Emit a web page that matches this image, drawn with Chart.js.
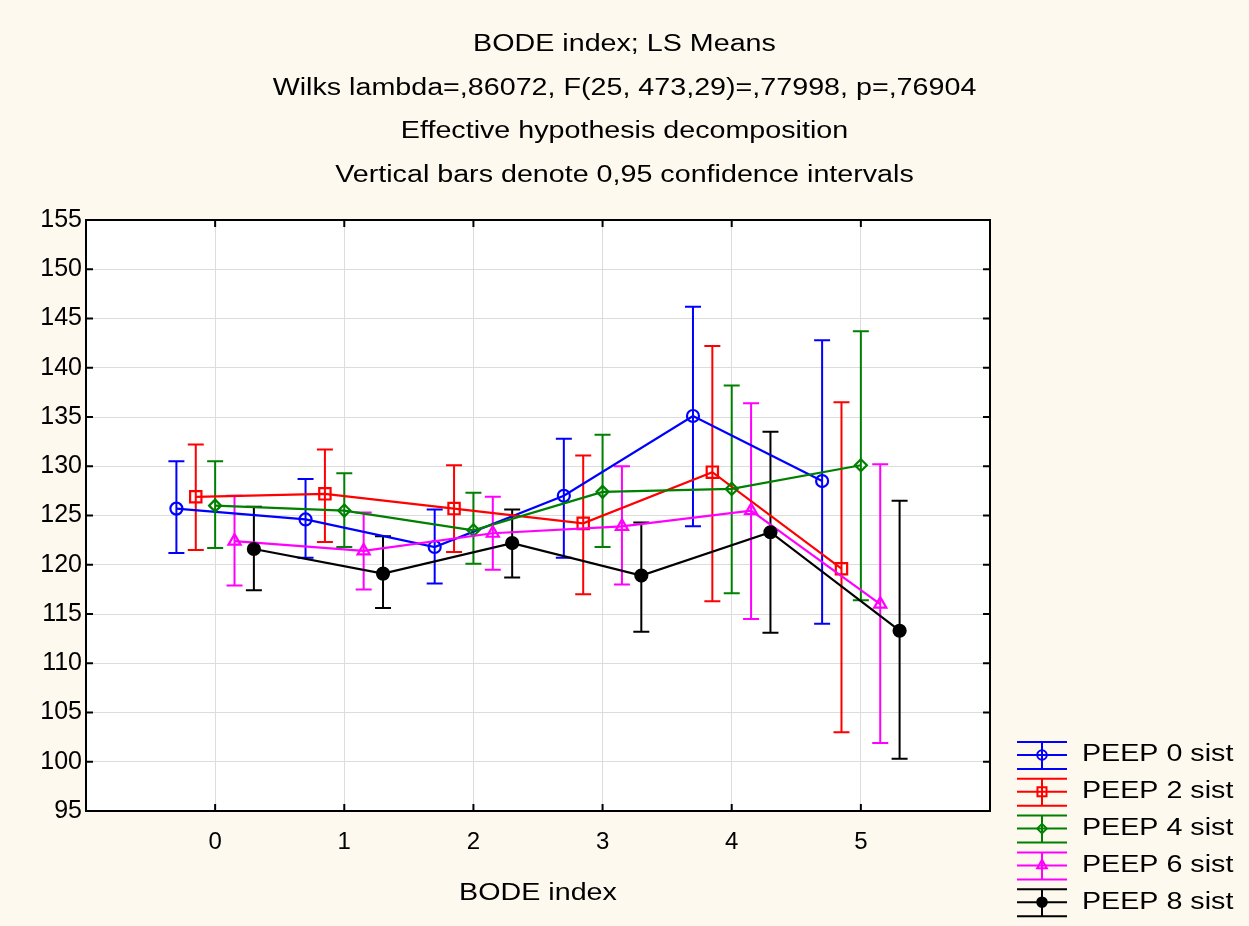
<!DOCTYPE html>
<html>
<head>
<meta charset="utf-8">
<script src="https://cdn.jsdelivr.net/npm/chart.js@4.4.1/dist/chart.umd.min.js"></script>
<style>
  html, body { margin: 0; padding: 0; background: #fdf9ee; }
  canvas { display: block; }
</style>
</head>
<body>
<canvas id="myChart" width="1249" height="926"></canvas>
<script>
// DATA
const categories = [0, 1, 2, 3, 4, 5];
const yTicks = [95, 100, 105, 110, 115, 120, 125, 130, 135, 140, 145, 150, 155];
const titleLines = [
  'BODE index; LS Means',
  'Wilks lambda=,86072, F(25, 473,29)=,77998, p=,76904',
  'Effective hypothesis decomposition',
  'Vertical bars denote 0,95 confidence intervals'
];
const xTitle = 'BODE index';
const seriesNames = ['PEEP 0 sist', 'PEEP 2 sist', 'PEEP 4 sist', 'PEEP 6 sist', 'PEEP 8 sist'];
const seriesOffsets = [-0.3, -0.15, 0, 0.15, 0.3];

const peep0 = [125.7, 124.6, 121.8, 127.0, 135.1, 128.5];
const peep0Low = [121.2, 120.7, 118.1, 120.7, 123.9, 114.0];
const peep0High = [130.5, 128.7, 125.6, 132.8, 146.2, 142.8];

const peep2 = [126.9, 127.2, 125.7, 124.2, 129.4, 119.6];
const peep2Low = [121.5, 122.3, 121.3, 117.0, 116.3, 103.0];
const peep2High = [132.2, 131.7, 130.1, 131.1, 142.2, 136.5];

const peep4 = [126.0, 125.5, 123.5, 127.4, 127.7, 130.1];
const peep4Low = [121.7, 121.8, 120.1, 121.8, 117.1, 116.4];
const peep4High = [130.5, 129.3, 127.3, 133.2, 138.2, 143.7];

const peep6 = [122.4, 121.4, 123.2, 123.9, 125.5, 116.0];
const peep6Low = [117.9, 117.5, 119.5, 118.0, 114.5, 101.9];
const peep6High = [127.0, 125.3, 126.9, 130.0, 136.4, 130.2];

const peep8 = [121.6, 119.1, 122.2, 118.9, 123.3, 113.3];
const peep8Low = [117.4, 115.6, 118.7, 113.2, 113.1, 100.3];
const peep8High = [125.9, 122.9, 125.6, 124.3, 133.5, 126.5];

// STYLE
const colors = ['#0000ff', '#ff0000', '#008000', '#ff00ff', '#000000'];
const markers = ['circle', 'rect', 'rectRot', 'triangle', 'circle'];
const markerSizes = [6, 8, 6, 7, 6];
const markerFill = ['transparent', 'transparent', 'transparent', 'transparent', '#000000'];
const FONT = '"Liberation Sans", Arial, sans-serif';
const STRETCH = 1.22;

const means = [peep0, peep2, peep4, peep6, peep8];
const lows = [peep0Low, peep2Low, peep4Low, peep6Low, peep8Low];
const highs = [peep0High, peep2High, peep4High, peep6High, peep8High];

function stretchText(ctx, text, x, y, size, align) {
  ctx.save();
  ctx.font = size + 'px ' + FONT;
  ctx.fillStyle = '#000';
  ctx.textBaseline = 'middle';
  ctx.textAlign = 'left';
  const w = ctx.measureText(text).width * STRETCH;
  const left = align === 'center' ? x - w / 2 : x;
  ctx.translate(left, y);
  ctx.scale(STRETCH, 1);
  ctx.fillText(text, 0, 0);
  ctx.restore();
}

// BACKGROUND, ERROR BARS, FRAME, TITLES, LEGEND
const decorPlugin = {
  id: 'decor',
  beforeDraw(chart) {
    const { ctx, chartArea: a } = chart;
    ctx.save();
    ctx.fillStyle = '#fdf9ee';
    ctx.fillRect(0, 0, chart.width, chart.height);
    ctx.fillStyle = '#ffffff';
    ctx.fillRect(a.left, a.top, a.right - a.left, a.bottom - a.top);
    ctx.restore();
  },
  beforeDatasetsDraw(chart) {
    const { ctx, scales: { x, y } } = chart;
    ctx.save();
    ctx.lineWidth = 2;
    means.forEach((m, s) => {
      ctx.strokeStyle = colors[s];
      categories.forEach((c, i) => {
        const px = x.getPixelForValue(c + seriesOffsets[s]);
        const lo = y.getPixelForValue(lows[s][i]);
        const hi = y.getPixelForValue(highs[s][i]);
        ctx.beginPath();
        ctx.moveTo(px, lo); ctx.lineTo(px, hi);
        ctx.moveTo(px - 8, lo); ctx.lineTo(px + 8, lo);
        ctx.moveTo(px - 8, hi); ctx.lineTo(px + 8, hi);
        ctx.stroke();
      });
    });
    ctx.restore();
  },
  afterDraw(chart) {
    const { ctx, chartArea: a, scales: { x, y } } = chart;
    ctx.save();
    // frame + inward ticks
    ctx.strokeStyle = '#000';
    ctx.lineWidth = 2;
    ctx.strokeRect(a.left, a.top, a.right - a.left, a.bottom - a.top);
    ctx.beginPath();
    yTicks.forEach(v => {
      const py = y.getPixelForValue(v);
      ctx.moveTo(a.left, py); ctx.lineTo(a.left + 7, py);
      ctx.moveTo(a.right, py); ctx.lineTo(a.right - 7, py);
    });
    categories.forEach(c => {
      const px = x.getPixelForValue(c);
      ctx.moveTo(px, a.bottom); ctx.lineTo(px, a.bottom - 7);
      ctx.moveTo(px, a.top); ctx.lineTo(px, a.top + 7);
    });
    ctx.stroke();
    ctx.restore();

    titleLines.forEach((t, i) => stretchText(ctx, t, chart.width / 2, 45 + i * 43.5, 23.5, 'center'));
    stretchText(ctx, xTitle, (a.left + a.right) / 2, 894, 23.5, 'center');

    // legend
    seriesNames.forEach((name, s) => {
      const cy = 755 + s * 36.8;
      ctx.save();
      ctx.strokeStyle = colors[s];
      ctx.lineWidth = 2;
      ctx.beginPath();
      [-13, 0, 14].forEach(d => { ctx.moveTo(1017, cy + d); ctx.lineTo(1067, cy + d); });
      ctx.moveTo(1042, cy - 13); ctx.lineTo(1042, cy + 14);
      ctx.stroke();
      ctx.fillStyle = markerFill[s];
      Chart.helpers.drawPoint(ctx, { pointStyle: markers[s], radius: markerSizes[s] * 0.8, borderWidth: 1.5, rotation: 0 }, 1042, cy);
      ctx.restore();
      stretchText(ctx, name, 1082, cy, 23.5, 'left');
    });
  }
};

const datasets = means.map((m, s) => ({
  label: seriesNames[s],
  data: categories.map((c, i) => ({ x: c + seriesOffsets[s], y: m[i] })),
  showLine: true,
  borderColor: colors[s],
  borderWidth: 2.2,
  pointStyle: markers[s],
  pointRadius: markerSizes[s],
  pointBorderWidth: 2.2,
  pointBorderColor: colors[s],
  pointBackgroundColor: markerFill[s],
  order: 4 - s
}));

const ctx = document.getElementById('myChart').getContext('2d');
const myChart = new Chart(ctx, {
  type: 'scatter',
  data: { datasets },
  plugins: [decorPlugin],
  options: {
    responsive: false,
    devicePixelRatio: 1,
    animation: false,
    layout: { padding: { left: 0, right: 259, top: 220, bottom: 0 } },
    plugins: { legend: { display: false }, tooltip: { enabled: false } },
    scales: {
      x: {
        type: 'linear',
        min: -1,
        max: 6,
        afterBuildTicks: scale => { scale.ticks = categories.map(v => ({ value: v })); },
        afterFit: scale => { scale.height = 115; },
        grid: { color: '#dcdcdc', lineWidth: 1, drawTicks: false },
        border: { display: false },
        ticks: { color: '#000', padding: 17, font: { family: FONT, size: 24 } }
      },
      y: {
        min: 95,
        max: 155,
        afterBuildTicks: scale => { scale.ticks = yTicks.map(v => ({ value: v })); },
        afterFit: scale => { scale.width = 86; },
        grid: { color: '#dcdcdc', lineWidth: 1, drawTicks: false },
        border: { display: false },
        ticks: { color: '#000', padding: 4, font: { family: FONT, size: 25 } }
      }
    }
  }
});
</script>
</body>
</html>
